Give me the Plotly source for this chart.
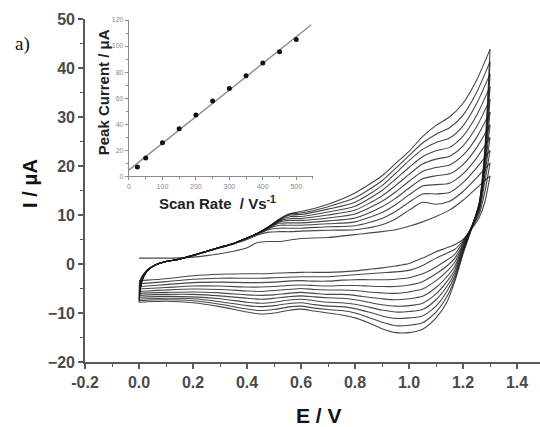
import numpy as np
import plotly.graph_objects as go

# ---------------- data ----------------
scan_rates = [25, 50, 100, 150, 200, 250, 300, 350, 400, 450, 500]          # mV/s (inset)
peak_currents = [7.0, 14.0, 25.6, 36.4, 47.0, 57.7, 67.4, 77.2, 87.0, 95.6, 105.0]  # µA (inset)

# potential grids of the forward (anodic) and reverse (cathodic) sweeps, V
E_FWD = [0.00, 0.01, 0.03, 0.06, 0.10, 0.15, 0.20, 0.25, 0.30, 0.35, 0.40, 0.44, 0.48, 0.52,
         0.56, 0.60, 0.70, 0.80, 0.90, 0.95, 1.00, 1.05, 1.10, 1.15, 1.20, 1.25, 1.30]
E_REV = [1.30, 1.28, 1.26, 1.23, 1.20, 1.17, 1.14, 1.10, 1.05, 1.00, 0.95, 0.90, 0.85, 0.80,
         0.75, 0.70, 0.65, 0.60, 0.55, 0.50, 0.45, 0.40, 0.30, 0.20, 0.10, 0.03, 0.00]

# currents (µA) of the forward sweeps, one list per scan rate
i_fwd_25 = [1.2, 1.2, 1.2, 1.2, 1.2, 1.25, 1.4, 1.7, 2.1, 2.6, 3.3, 4.4, 4.6, 4.6, 4.9, 5.2, 5.4, 6.0, 6.6, 7.0, 7.7, 8.6, 9.7, 11.0, 13.0, 15.5, 18.0]
i_fwd_50 = [-4.0, -2.6, -1.2, -0.2, 0.5, 1.0, 1.7, 2.5, 3.3, 4.1, 5.0, 5.9, 6.5, 6.6, 6.6, 6.7, 6.9, 7.0, 8.0, 9.2, 11.0, 12.6, 12.2, 12.8, 14.8, 17.6, 20.6]
i_fwd_100 = [-4.6, -2.8, -1.3, -0.2, 0.5, 1.0, 1.7, 2.5, 3.3, 4.1, 5.2, 6.1, 7.0, 7.3, 7.3, 7.3, 7.6, 7.8, 9.3, 10.7, 12.6, 14.3, 14.3, 14.6, 16.6, 19.6, 23.2]
i_fwd_150 = [-5.1, -3.0, -1.3, -0.2, 0.5, 1.0, 1.7, 2.6, 3.4, 4.2, 5.3, 6.2, 7.2, 7.9, 7.9, 7.9, 8.2, 8.6, 10.5, 12.1, 14.1, 15.9, 16.2, 16.5, 18.4, 21.6, 25.8]
i_fwd_200 = [-5.6, -3.2, -1.4, -0.2, 0.5, 1.0, 1.8, 2.6, 3.4, 4.2, 5.3, 6.3, 7.3, 8.3, 8.4, 8.4, 8.8, 9.4, 11.7, 13.4, 15.5, 17.4, 18.0, 18.4, 20.3, 23.7, 28.4]
i_fwd_250 = [-6.0, -3.3, -1.4, -0.2, 0.5, 1.0, 1.8, 2.6, 3.4, 4.2, 5.3, 6.3, 7.4, 8.6, 8.9, 8.9, 9.4, 10.2, 12.8, 14.7, 16.9, 18.9, 19.7, 20.2, 22.2, 25.8, 31.0]
i_fwd_300 = [-6.4, -3.4, -1.4, -0.2, 0.5, 1.0, 1.8, 2.6, 3.4, 4.2, 5.3, 6.3, 7.5, 8.8, 9.3, 9.3, 10.0, 11.0, 13.9, 16.0, 18.3, 20.4, 21.4, 22.0, 24.1, 28.0, 33.6]
i_fwd_350 = [-6.8, -3.5, -1.4, -0.2, 0.5, 1.0, 1.8, 2.6, 3.4, 4.2, 5.3, 6.3, 7.5, 8.9, 9.7, 9.7, 10.6, 11.8, 15.0, 17.3, 19.7, 21.9, 23.1, 23.8, 26.1, 30.3, 36.2]
i_fwd_400 = [-7.2, -3.6, -1.4, -0.2, 0.5, 1.0, 1.8, 2.6, 3.4, 4.2, 5.3, 6.3, 7.6, 9.0, 10.0, 10.1, 11.2, 12.6, 16.0, 18.5, 21.1, 23.4, 24.8, 25.7, 28.2, 32.7, 38.8]
i_fwd_450 = [-7.5, -3.7, -1.4, -0.2, 0.5, 1.0, 1.8, 2.6, 3.4, 4.2, 5.3, 6.3, 7.6, 9.1, 10.2, 10.4, 11.7, 13.5, 17.0, 19.5, 22.1, 24.7, 26.5, 27.8, 30.4, 35.0, 41.3]
i_fwd_500 = [-7.8, -3.8, -1.4, -0.2, 0.5, 1.0, 1.8, 2.6, 3.4, 4.2, 5.3, 6.3, 7.6, 9.2, 10.3, 10.7, 12.2, 14.5, 18.0, 20.5, 23.0, 26.0, 28.3, 30.0, 32.8, 37.5, 43.8]

# currents (µA) of the reverse sweeps, one list per scan rate
i_rev_25 = [18.0, 12.5, 9.5, 7.0, 5.0, 4.0, 3.3, 2.5, 1.2, 0.1, -0.4, -0.8, -1.1, -1.4, -1.6, -1.7, -1.7, -1.7, -1.8, -1.9, -2.0, -2.0, -2.1, -2.4, -3.0, -3.3, -3.4]
i_rev_50 = [20.6, 14.5, 10.2, 7.2, 4.8, 3.0, 2.2, 1.2, -0.3, -1.3, -1.6, -1.8, -2.0, -2.2, -2.4, -2.6, -2.6, -2.6, -2.7, -2.8, -2.9, -2.9, -2.9, -3.1, -3.6, -3.9, -4.0]
i_rev_100 = [23.2, 16.5, 10.8, 7.3, 4.5, 2.0, 0.8, -0.6, -2.0, -2.8, -3.1, -3.2, -3.2, -3.2, -3.3, -3.5, -3.5, -3.4, -3.5, -3.7, -3.8, -3.8, -3.7, -3.8, -4.2, -4.5, -4.6]
i_rev_150 = [25.8, 18.0, 11.2, 7.4, 4.2, 1.2, -0.4, -2.0, -3.6, -4.3, -4.6, -4.6, -4.5, -4.4, -4.4, -4.5, -4.4, -4.3, -4.4, -4.6, -4.7, -4.7, -4.5, -4.5, -4.8, -5.0, -5.1]
i_rev_200 = [28.4, 19.0, 11.5, 7.4, 3.9, 0.4, -1.5, -3.4, -5.1, -5.7, -6.0, -5.9, -5.7, -5.4, -5.3, -5.3, -5.2, -5.0, -5.2, -5.4, -5.6, -5.5, -5.2, -5.1, -5.3, -5.5, -5.6]
i_rev_250 = [31.0, 20.0, 11.8, 7.4, 3.6, -0.4, -2.6, -4.8, -6.6, -7.1, -7.3, -7.1, -6.8, -6.4, -6.2, -6.2, -6.0, -5.8, -6.0, -6.3, -6.4, -6.3, -5.9, -5.7, -5.8, -5.9, -6.0]
i_rev_300 = [33.6, 20.5, 12.0, 7.3, 3.3, -1.1, -3.6, -6.1, -8.0, -8.5, -8.6, -8.3, -7.8, -7.3, -7.0, -6.9, -6.7, -6.5, -6.7, -7.0, -7.2, -7.0, -6.5, -6.2, -6.2, -6.3, -6.4]
i_rev_350 = [36.2, 21.0, 12.2, 7.2, 3.0, -1.8, -4.6, -7.3, -9.3, -9.7, -9.8, -9.4, -8.8, -8.2, -7.9, -7.8, -7.5, -7.2, -7.4, -7.8, -8.0, -7.8, -7.1, -6.7, -6.6, -6.7, -6.8]
i_rev_400 = [38.8, 21.5, 12.3, 7.1, 2.7, -2.4, -5.6, -8.6, -10.6, -11.0, -11.1, -10.6, -9.8, -9.1, -8.7, -8.6, -8.3, -7.9, -8.1, -8.5, -8.7, -8.5, -7.7, -7.1, -7.0, -7.1, -7.2]
i_rev_450 = [41.3, 22.0, 12.4, 7.0, 2.4, -3.0, -6.7, -9.8, -12.0, -12.5, -12.6, -11.9, -10.9, -10.0, -9.5, -9.3, -9.0, -8.6, -8.8, -9.3, -9.5, -9.2, -8.2, -7.5, -7.3, -7.4, -7.5]
i_rev_500 = [43.8, 23.0, 12.5, 6.9, 2.0, -3.5, -7.8, -11.0, -13.3, -14.0, -14.0, -13.2, -12.0, -11.0, -10.4, -10.0, -9.6, -9.2, -9.5, -10.0, -10.2, -9.8, -8.7, -7.9, -7.6, -7.7, -7.8]

forward_sweeps = [i_fwd_25, i_fwd_50, i_fwd_100, i_fwd_150, i_fwd_200, i_fwd_250,
                  i_fwd_300, i_fwd_350, i_fwd_400, i_fwd_450, i_fwd_500]
reverse_sweeps = [i_rev_25, i_rev_50, i_rev_100, i_rev_150, i_rev_200, i_rev_250,
                  i_rev_300, i_rev_350, i_rev_400, i_rev_450, i_rev_500]

x_ticks = [-0.2, 0.0, 0.2, 0.4, 0.6, 0.8, 1.0, 1.2, 1.4]
y_ticks = [-20, -10, 0, 10, 20, 30, 40, 50]
inset_x_ticks = [0, 100, 200, 300, 400, 500]
inset_y_ticks = [0, 20, 40, 60, 80, 100, 120]

# ---------------- figure ----------------
fig = go.Figure()
curve_line = dict(color="rgba(25,25,25,0.8)", width=1.1, shape="spline", smoothing=0.7)

for fwd, rev in zip(forward_sweeps, reverse_sweeps):
    fig.add_trace(go.Scatter(x=E_FWD, y=fwd, mode="lines", line=curve_line,
                             showlegend=False, hoverinfo="skip"))
    fig.add_trace(go.Scatter(x=E_REV, y=rev, mode="lines", line=curve_line,
                             showlegend=False, hoverinfo="skip"))

# inset: linear fit + points
slope, intercept = np.polyfit(scan_rates, peak_currents, 1)
inset_x_range = [0, 550]
fit_x = [inset_x_range[0], 545]
fit_y = [slope * v + intercept for v in fit_x]
fig.add_trace(go.Scatter(x=fit_x, y=fit_y, mode="lines", xaxis="x2", yaxis="y2",
                         line=dict(color="#8a8a8a", width=1.4), showlegend=False))
fig.add_trace(go.Scatter(x=scan_rates, y=peak_currents, mode="markers", xaxis="x2", yaxis="y2",
                         marker=dict(color="#111", size=5), showlegend=False))

axis_col = "#5a5a5a"
tick_font = dict(family="Liberation Sans, Arial", size=16, color="#4a4a4a", weight="bold")
inset_tick_font = dict(family="Liberation Sans, Arial", size=7, color="#888")

fig.update_layout(
    width=540, height=427,
    margin=dict(l=85, r=0, t=19, b=65),
    paper_bgcolor="white", plot_bgcolor="rgba(0,0,0,0)",
    xaxis=dict(range=[-0.2, 1.485], tickvals=x_ticks, ticktext=[f"{v:.1f}" for v in x_ticks],
               showgrid=False, zeroline=False, showline=True, linecolor=axis_col, linewidth=1.6,
               ticks="outside", ticklen=5, tickwidth=1.5, tickcolor=axis_col, tickfont=tick_font,
               minor=dict(dtick=0.1, tick0=-0.2, ticks="outside", ticklen=3, tickcolor=axis_col, tickwidth=1.2),
               domain=[0, 1]),
    yaxis=dict(range=[-20, 50], tickvals=y_ticks, showgrid=False, zeroline=False, showline=True,
               linecolor=axis_col, linewidth=1.6, ticks="outside", ticklen=5, tickwidth=1.5,
               tickcolor=axis_col, tickfont=tick_font,
               minor=dict(dtick=5, tick0=-20, ticks="outside", ticklen=3, tickcolor=axis_col, tickwidth=1.2),
               domain=[0, 1]),
    xaxis2=dict(range=inset_x_range, tickvals=inset_x_ticks, domain=[0.0967, 0.501], anchor="y2",
                showgrid=False, zeroline=False, showline=True, linecolor="#8a8a8a", linewidth=1.2,
                ticks="outside", ticklen=3, tickcolor="#8a8a8a", tickfont=inset_tick_font,
                minor=dict(dtick=50, ticks="outside", ticklen=2, tickcolor="#8a8a8a")),
    yaxis2=dict(range=[0, 120], tickvals=inset_y_ticks, domain=[0.542, 0.997], anchor="x2",
                showgrid=False, zeroline=False, showline=True, linecolor="#8a8a8a", linewidth=1.2,
                ticks="outside", ticklen=3, tickcolor="#8a8a8a", tickfont=inset_tick_font,
                minor=dict(dtick=10, ticks="outside", ticklen=2, tickcolor="#8a8a8a")),
)

def label(text, x, y, size, angle=0, bold=True, family="Liberation Sans, Arial", color="#111"):
    fig.add_annotation(text=text, xref="paper", yref="paper", x=x, y=y, textangle=angle,
                       xanchor="center", yanchor="middle", showarrow=False,
                       font=dict(family=family, size=size, color=color,
                                 weight="bold" if bold else "normal"))

label("I / μA", -0.121, 0.522, 20, angle=-90)
label("E / V", 0.514, -0.157, 21)
label("Peak Current / μA", 0.040, 0.787, 15, angle=-90, color="#222")
label("Scan Rate  / Vs<sup>-1</sup>", 0.292, 0.464, 15, color="#222")
label("a)", -0.138, 0.927, 19, bold=False, family="Liberation Serif, Times New Roman")

fig.write_html("out.html")
